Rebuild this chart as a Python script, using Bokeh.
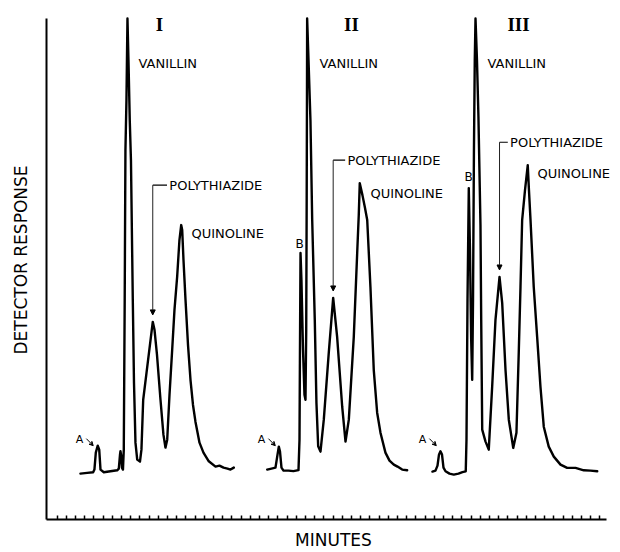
import math
from bokeh.plotting import figure
from bokeh.models import Label, Arrow, NormalHead, VeeHead, FixedTicker, Range1d
from bokeh.embed import file_html
from bokeh.resources import INLINE

# ---- data (minutes vs. detector response, % of full scale) ----
t_I = [3.53, 4.26, 4.91, 5.05, 5.20, 5.41, 5.57, 5.71, 6.07, 6.79, 7.52, 7.70, 7.83, 7.88, 7.96,
       8.04, 8.15, 8.24, 8.34, 8.42, 8.53, 8.64, 8.75, 8.89, 9.02, 9.22, 9.35, 9.51, 9.70, 10.00,
       10.16, 10.35, 10.71, 11.03, 11.39, 11.58, 11.85, 12.23, 12.55, 12.77, 12.96, 13.21, 13.50,
       13.75, 14.04, 14.29, 14.48, 14.59, 14.73, 14.95, 15.22, 15.49, 15.76, 16.03, 16.47, 16.90,
       17.48, 18.21, 18.64, 19.08, 19.51, 19.84, 20.20]
r_I = [9.2, 9.34, 9.46, 10.0, 13.4, 14.8, 14.0, 10.0, 9.46, 9.66, 9.86, 10.2, 13.0, 13.7, 12.8,
       10.4, 10.0, 14.0, 44.0, 74.0, 84.0, 100.4, 92.0, 80.0, 72.0, 44.0, 27.4, 15.4, 12.0, 11.6,
       14.0, 24.0, 29.4, 34.2, 39.6, 38.0, 33.0, 24.0, 17.0, 14.4, 16.0, 25.0, 34.0,
       42.0, 48.6, 56.0, 59.0, 58.0, 52.0, 44.0, 35.0, 28.0, 23.0, 19.6, 15.4, 13.4,
       11.66, 10.6, 10.8, 10.4, 10.2, 10.0, 10.4]

t_II = [23.83, 24.29, 24.73, 24.95, 25.09, 25.22, 25.38, 25.60, 26.14, 26.68, 27.23, 27.34, 27.39,
        27.45, 27.55, 27.72, 27.88, 27.99, 28.07, 28.12, 28.15, 28.17, 28.32, 28.53, 28.72, 29.00,
        29.18, 29.37, 29.62, 29.98, 30.52, 31.00, 31.43, 31.98, 32.34, 32.70, 33.24, 33.61, 33.78,
        33.89, 34.18, 34.46, 34.70, 35.05, 35.41, 35.78, 36.14, 36.68, 37.12, 37.59, 37.99, 38.50,
        39.04]
r_II = [10.0, 10.2, 10.4, 13.0, 14.6, 13.6, 10.4, 9.8, 9.8, 9.7, 9.9, 16.0, 34.0,
        53.4, 48.0, 34.0, 25.0, 24.0, 38.0, 64.0, 84.0, 100.4, 92.0, 80.0, 60.0, 40.0,
        23.4, 14.66, 13.6, 20.0, 33.4, 44.4, 36.6, 22.6, 15.6, 20.0, 36.6, 53.4, 61.0,
        67.4, 65.0, 62.4, 60.0, 46.6, 30.0, 21.4, 17.4, 13.4, 11.8, 11.0, 10.6, 10.0,
        9.86]

t_III = [41.79, 42.12, 42.34, 42.50, 42.66, 42.83, 42.99, 43.21, 43.64, 44.11, 44.62, 45.05, 45.41,
         45.49, 45.60, 45.74, 45.87, 46.00, 46.11, 46.20, 46.30, 46.39, 46.47, 46.63, 46.79, 47.01,
         47.09, 47.20, 47.55, 47.91, 48.28, 48.64, 49.08, 49.37, 49.73, 50.09, 50.57, 50.92, 51.17,
         51.36, 51.54, 51.85, 52.15, 52.28, 52.45, 52.80, 53.17, 53.53, 53.89, 54.43, 54.98, 55.71,
         56.43, 57.34, 58.24, 58.97, 59.70]
r_III = [9.6, 9.8, 10.8, 13.0, 13.66, 13.0, 10.4, 9.66, 9.2, 9.0, 9.2, 9.5, 9.66,
         16.0, 44.0, 66.4, 54.0, 36.0, 28.0, 44.0, 74.0, 92.0, 100.4, 92.0, 80.6, 59.0,
         40.0, 18.0, 15.66, 14.0, 26.6, 40.0, 48.6, 43.4, 30.0, 20.0, 14.34, 17.4, 33.4,
         46.6, 60.0, 66.0, 71.0, 66.0, 60.0, 46.6, 36.6, 26.6, 18.6, 14.6, 12.6, 11.0,
         10.34, 10.34, 9.86, 9.8, 9.66]

panel_names = ["I", "II", "III"]
minute_ticks = list(range(1, 61))
x_axis_span = (-0.16, 60.71)
y_axis_span = (0, 100.4)

# ---- figure ----
p = figure(width=620, height=552, output_backend="svg", toolbar_location=None,
           x_range=Range1d(-0.16, 62.23), y_range=Range1d(0, 104),
           min_border_left=46, min_border_right=0, min_border_top=0, min_border_bottom=32)
p.grid.visible = False
p.outline_line_color = None
p.background_fill_color = "white"
p.border_fill_color = "white"

for t, r in [(t_I, r_I), (t_II, r_II), (t_III, r_III)]:
    p.line(t, r, line_color="black", line_width=2.4, line_join="round", line_cap="round")

SANS = "DejaVu Sans"

xa = p.xaxis[0]
xa.ticker = FixedTicker(ticks=[], minor_ticks=minute_ticks)
xa.bounds = x_axis_span
xa.minor_tick_in = 4
xa.minor_tick_out = 0
xa.minor_tick_line_width = 1.5
xa.minor_tick_line_color = "black"
xa.major_tick_line_color = None
xa.major_label_standoff = 0
xa.axis_line_width = 2
xa.axis_line_color = "black"
xa.axis_label = "MINUTES"
xa.axis_label_text_font = SANS
xa.axis_label_text_font_size = "17px"
xa.axis_label_text_font_style = "normal"
xa.axis_label_text_color = "black"
xa.axis_label_standoff = 10

ya = p.yaxis[0]
ya.ticker = FixedTicker(ticks=[], minor_ticks=[])
ya.bounds = y_axis_span
ya.major_tick_line_color = None
ya.minor_tick_line_color = None
ya.major_label_standoff = 0
ya.axis_line_width = 2
ya.axis_line_color = "black"
ya.axis_label = "DETECTOR RESPONSE"
ya.axis_label_text_font = SANS
ya.axis_label_text_font_size = "17px"
ya.axis_label_text_font_style = "normal"
ya.axis_label_text_color = "black"
ya.axis_label_standoff = 16


def lab(x, y, text, size="13px", align="left", baseline="middle", font=SANS, style="normal"):
    p.add_layout(Label(x=x, y=y, text=text, text_font=font, text_font_size=size,
                       text_align=align, text_baseline=baseline, text_color="black",
                       text_font_style=style))

# roman numerals
for x, name in zip([12.12, 32.99, 51.14], panel_names):
    lab(x, 99.2, name, size="19px", align="center", font="Liberation Serif", style="bold")

# VANILLIN
for x in [9.84, 29.51, 47.77]:
    lab(x, 91.4, "VANILLIN")

# QUINOLINE
for x, y in [(15.60, 57.4), (35.05, 65.4), (53.21, 69.4)]:
    lab(x, y, "QUINOLINE")

# POLYTHIAZIDE with bracket arrow
for px, by, ty, lend, toff in [(11.39, 67.0, 41.0, 1.55, 1.8),
                               (31.00, 72.0, 45.8, 1.30, 1.55),
                               (49.08, 75.6, 50.0, 0.90, 1.15)]:
    p.segment(x0=[px], y0=[by], x1=[px + lend], y1=[by], line_color="black", line_width=1.2)
    p.add_layout(Arrow(end=NormalHead(size=5, fill_color="black", line_color="black"),
                       x_start=px, y_start=by, x_end=px, y_end=ty,
                       line_color="#222222", line_width=1))
    lab(px + toff, by, "POLYTHIAZIDE")

# B labels
for x, y in [(27.34, 55.2), (45.71, 68.6)]:
    lab(x, y, "B", size="12px", align="center")

# A labels with small arrows
for x in [3.42, 23.21, 40.71]:
    lab(x, 16.0, "A", size="11px", align="center")
    p.add_layout(Arrow(end=VeeHead(size=4, line_color="black", line_width=1),
                       x_start=x + 0.75, y_start=16.2, x_end=x + 1.5, y_end=14.8,
                       line_color="black", line_width=1))

open("out.html", "w").write(file_html(p, INLINE))
